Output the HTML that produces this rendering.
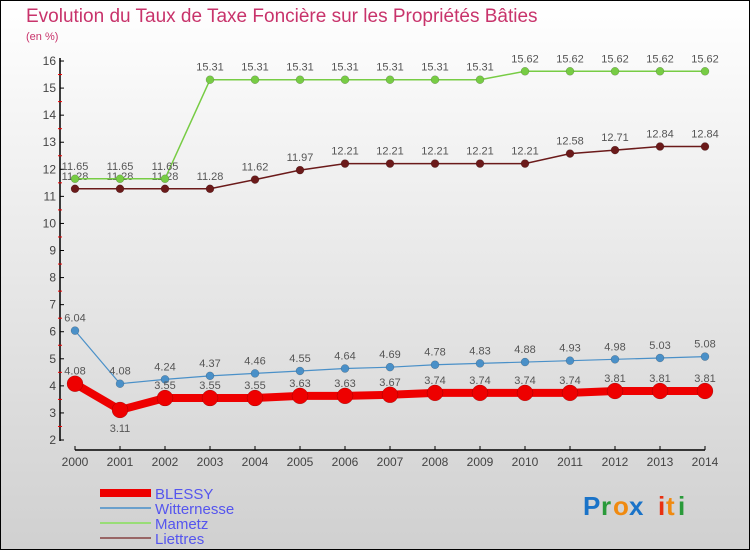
<!DOCTYPE html>
<html><head><meta charset="utf-8"><style>
body{margin:0;width:750px;height:550px;overflow:hidden}
svg{display:block;font-family:"Liberation Sans",sans-serif}
</style></head><body>
<svg width="750" height="550">
<defs><linearGradient id="bg" x1="0" y1="0" x2="0" y2="1"><stop offset="0" stop-color="#ffffff"/><stop offset="1" stop-color="#d0d0d0"/></linearGradient></defs>
<rect x="0.5" y="0.5" width="749" height="549" fill="url(#bg)" stroke="#000"/>
<text x="26" y="22" font-size="19" fill="#c8336b">Evolution du Taux de Taxe Foncière sur les Propriétés Bâties</text>
<text x="26" y="40" font-size="11" fill="#c8336b">(en %)</text>
<g id="axes"></g>
<g id="series"></g>
<g id="legend"></g>
<g font-size="26" font-weight="bold">
<text x="583" y="515" fill="#1a73c8">P</text><text x="601" y="515" fill="#2a9a3a">r</text><text x="613" y="515" fill="#f08a10">o</text><text x="629" y="515" fill="#1a73c8">x</text><text x="658" y="515" fill="#e83010">i</text><text x="666" y="515" fill="#f08a10">t</text><text x="678" y="515" fill="#2a9a3a">i</text>
</g>
</svg>
<script>
const years=[2000,2001,2002,2003,2004,2005,2006,2007,2008,2009,2010,2011,2012,2013,2014];
const yTicks=[2,3,4,5,6,7,8,9,10,11,12,13,14,15,16];
const blessy=[4.08,3.11,3.55,3.55,3.55,3.63,3.63,3.67,3.74,3.74,3.74,3.74,3.81,3.81,3.81];
const witternesse=[6.04,4.08,4.24,4.37,4.46,4.55,4.64,4.69,4.78,4.83,4.88,4.93,4.98,5.03,5.08];
const mametz=[11.65,11.65,11.65,15.31,15.31,15.31,15.31,15.31,15.31,15.31,15.62,15.62,15.62,15.62,15.62];
const liettres=[11.28,11.28,11.28,11.28,11.62,11.97,12.21,12.21,12.21,12.21,12.21,12.58,12.71,12.84,12.84];
const NS="http://www.w3.org/2000/svg";
const X=i=>75+i*45;
const Y=v=>440-(v-2)*27.07;
function mk(tag,attrs,parent,txt){const e=document.createElementNS(NS,tag);for(const k in attrs)e.setAttribute(k,attrs[k]);if(txt!==undefined)e.textContent=txt;parent.appendChild(e);return e;}
const axes=document.getElementById('axes');
const ya=mk('line',{x1:60,y1:58,x2:60,y2:441,stroke:'#000','stroke-width':1.5},axes);


const xa=mk('line',{x1:75,y1:450,x2:705,y2:450,stroke:'#000','stroke-width':1.5},axes);


yTicks.forEach(t=>{
  mk('line',{x1:60,y1:Y(t),x2:64,y2:Y(t),stroke:'#000'},axes);
  if(t<16) mk('line',{x1:58,y1:Y(t+0.5),x2:62,y2:Y(t+0.5),stroke:'#e00'},axes);
  const l=mk('text',{x:56,y:Y(t)+4,'font-size':12,fill:'#444','text-anchor':'end'},axes,t);
  
  
});
years.forEach((yr,i)=>{
  mk('line',{x1:X(i),y1:446,x2:X(i),y2:450,stroke:'#000'},axes);
  const l=mk('text',{x:X(i),y:466,'font-size':12,fill:'#444','text-anchor':'middle'},axes,yr);
  
  
});
const sg=document.getElementById('series');
function draw(vals,color,w,r,name,below){
  const g=mk('g',{},sg);
  
  
  mk('polyline',{points:vals.map((v,i)=>X(i)+','+Y(v)).join(' '),fill:'none',stroke:color,'stroke-width':w},g);
  vals.forEach((v,i)=>{
    const c=mk('circle',{cx:X(i),cy:Y(v),r:r,fill:color,stroke:'rgba(0,0,0,0.3)','stroke-width':0.5},g);
    
    
    const t=mk('text',{x:X(i),y:below&&i==1?Y(v)+22:Y(v)-9,'font-size':11,fill:'#555','text-anchor':'middle'},g,v.toFixed(2).replace(/\.?0+$/,'').length<4?v.toFixed(2):v.toFixed(2));
    
    
  });
}
draw(liettres,'#6b1a1a',1.5,4,'liettres');
draw(mametz,'#77cc44',1.5,4,'mametz');
draw(witternesse,'#4a90c8',1.2,4,'witternesse');
draw(blessy,'#ee0000',8,8,'blessy',true);
const lg=document.getElementById('legend');
const items=[['BLESSY','#ee0000',8],['Witternesse','#6aa0cc',2],['Mametz','#99dd77',2],['Liettres','#996666',2]];
items.forEach((it,k)=>{
  const y=493+k*15;
  const g=mk('g',{},lg);
  
  
  mk('line',{x1:100,y1:y,x2:151,y2:y,stroke:it[1],'stroke-width':it[2]},g);
  mk('text',{x:155,y:y+6,'font-size':15,fill:'#5555ee'},g,it[0]);
});
</script>
</body></html>
